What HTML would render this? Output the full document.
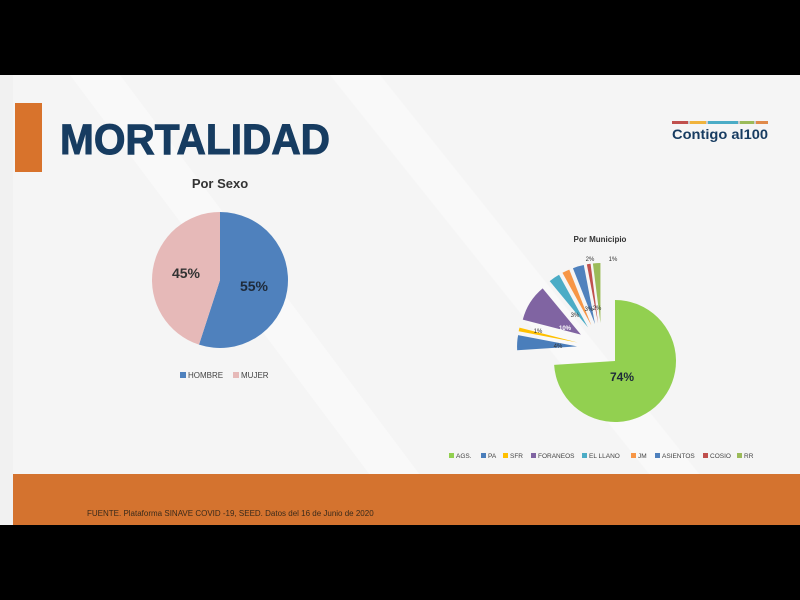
<!DOCTYPE html>
<html><head><meta charset="utf-8"><style>
html,body{margin:0;padding:0;background:#000;}
svg{display:block;font-family:"Liberation Sans",sans-serif;}
</style></head><body>
<svg id="s" width="800" height="600" viewBox="0 0 800 600" xmlns="http://www.w3.org/2000/svg">
<rect x="0" y="0" width="800" height="600" fill="#000"/>
<rect x="0" y="75" width="800" height="450" fill="#f5f5f5"/>
<rect x="0" y="75" width="13" height="450" fill="#f1f1f1"/>
<polygon points="70,75 120,75 420,475 370,475" fill="#f9f9f9"/>
<polygon points="330,75 380,75 700,475 650,475" fill="#f9f9f9"/>
<rect x="15" y="103" width="27" height="69" fill="#d8732c"/>
<text x="60" y="154" font-size="43" font-weight="bold" fill="#173c61" stroke="#173c61" stroke-width="1" textLength="270" lengthAdjust="spacingAndGlyphs">MORTALIDAD</text>
<!-- logo -->
<rect x="672" y="121" width="96" height="3" fill="#ccc"/>
<rect x="672" y="121" width="16" height="3" fill="#c0504d"/>
<rect x="690" y="121" width="16" height="3" fill="#f0b33c"/>
<rect x="708" y="121" width="30" height="3" fill="#4bacc6"/>
<rect x="740" y="121" width="14" height="3" fill="#9bbb59"/>
<rect x="756" y="121" width="12" height="3" fill="#e08a4a"/>
<text x="672" y="139" font-size="14" font-weight="bold" fill="#173c61" textLength="96" lengthAdjust="spacingAndGlyphs">Contigo al100</text>
<!-- sex pie -->
<text x="220" y="188" font-size="13" font-weight="bold" fill="#333" text-anchor="middle">Por Sexo</text>
<g id="sex"></g>
<text x="254" y="291" font-size="14" font-weight="bold" fill="#1e2a3a" text-anchor="middle">55%</text>
<text x="186" y="278" font-size="14" font-weight="bold" fill="#333" text-anchor="middle">45%</text>
<rect x="180" y="372" width="6" height="6" fill="#4f81bd"/>
<text x="188" y="378" font-size="8" fill="#444">HOMBRE</text>
<rect x="233" y="372" width="6" height="6" fill="#e6b9b8"/>
<text x="241" y="378" font-size="8" fill="#444">MUJER</text>
<!-- municipio -->
<text x="600" y="242" font-size="8" font-weight="bold" fill="#333" text-anchor="middle">Por Municipio</text>
<g id="mun"></g>
<text x="622" y="381" font-size="12" font-weight="bold" fill="#1e2a3a" text-anchor="middle">74%</text>
<text x="558" y="348" font-size="6" fill="#333" text-anchor="middle">4%</text>
<text x="538" y="333" font-size="6" fill="#333" text-anchor="middle">1%</text>
<text x="565" y="330" font-size="6" fill="#fff" font-weight="bold" text-anchor="middle">10%</text>
<text x="575" y="317" font-size="6" fill="#333" text-anchor="middle">3%</text>
<text x="589" y="311" font-size="6" fill="#333" text-anchor="middle">3%</text>
<text x="597" y="310" font-size="6" fill="#333" text-anchor="middle">2%</text>
<text x="590" y="261" font-size="6" fill="#333" text-anchor="middle">2%</text>
<text x="613" y="261" font-size="6" fill="#333" text-anchor="middle">1%</text>
<g font-size="6.5" fill="#444">
<rect x="449" y="453" width="5" height="5" fill="#92d050"/><text x="456" y="458">AGS.</text>
<rect x="481" y="453" width="5" height="5" fill="#4a7ebb"/><text x="488" y="458">PA</text>
<rect x="503" y="453" width="5" height="5" fill="#ffc000"/><text x="510" y="458">SFR</text>
<rect x="531" y="453" width="5" height="5" fill="#8064a2"/><text x="538" y="458">FORANEOS</text>
<rect x="582" y="453" width="5" height="5" fill="#4bacc6"/><text x="589" y="458">EL LLANO</text>
<rect x="631" y="453" width="5" height="5" fill="#f79646"/><text x="638" y="458">JM</text>
<rect x="655" y="453" width="5" height="5" fill="#4f81bd"/><text x="662" y="458">ASIENTOS</text>
<rect x="703" y="453" width="5" height="5" fill="#c0504d"/><text x="710" y="458">COSIO</text>
<rect x="737" y="453" width="5" height="5" fill="#9bbb59"/><text x="744" y="458">RR</text>
</g>
<rect x="13" y="474" width="787" height="51" fill="#d4732f"/>
<text x="87" y="516" font-size="8" fill="#3a2a1a">FUENTE. Plataforma SINAVE COVID -19, SEED. Datos del 16 de Junio de 2020</text>
</svg>
<script>
function wedge(cx,cy,r,a0,a1,col,ex){
 var m=(a0+a1)/2*Math.PI/180;cx+=ex*Math.sin(m);cy-=ex*Math.cos(m);
 var p=function(a){a=a*Math.PI/180;return [cx+r*Math.sin(a),cy-r*Math.cos(a)];};
 var s=p(a0),e=p(a1),l=(a1-a0)>180?1:0;
 return '<path d="M'+cx+','+cy+' L'+s[0]+','+s[1]+' A'+r+','+r+' 0 '+l+' 1 '+e[0]+','+e[1]+' Z" fill="'+col+'"/>';
}
document.getElementById('sex').innerHTML=wedge(220,280,68,0,198,'#4f81bd',0)+wedge(220,280,68,198,360,'#e6b9b8',0);
var d=[[74,'#92d050'],[4,'#4a7ebb'],[1,'#ffc000'],[10,'#8064a2'],[3,'#4bacc6'],[2,'#f79646'],[3,'#4f81bd'],[1,'#c0504d'],[2,'#9bbb59']];
var h='',a=0;
d.forEach(function(x,i){var b=a+x[0]*3.6;h+=wedge(i?602:615,i?348:361,i?60:61,a,b,x[1],i?25:0);a=b;});
document.getElementById('mun').innerHTML=h;
</script>
</body></html>
